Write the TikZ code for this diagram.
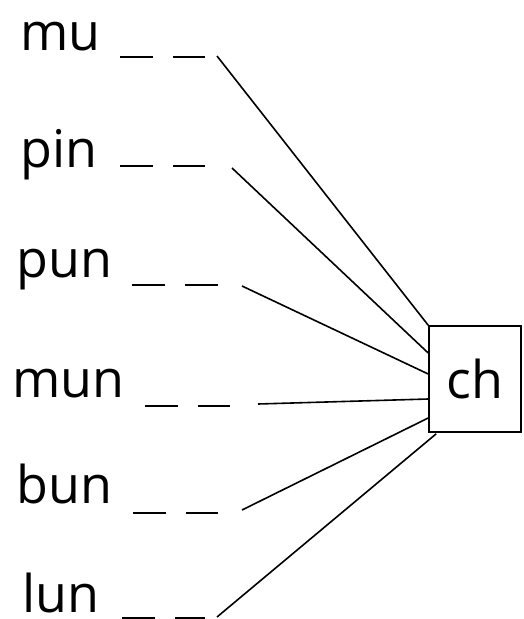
\documentclass[tikz,border=0pt]{standalone}
\usepackage{fontspec}
\setmainfont{Open Sans}
\usetikzlibrary{calc}
\tikzset{
  word/.style={anchor=base west, inner sep=0pt, font=\fontsize{52}{60}\selectfont},
  blank/.style={line width=2.6pt, dash pattern=on 33pt off 20pt},
  link/.style={line width=1.6pt}
}
\begin{document}
\begin{tikzpicture}[x=1pt,y=-1pt]
\useasboundingbox (0,0) rectangle (524,619);
\node[draw, line width=1.6pt, minimum width=92pt, minimum height=106pt, inner sep=0pt, font=\fontsize{52}{60}\selectfont] (ch) at (475,379) {ch};
% words and blanks
\node[word] (mu) at (20,50) {mu};
\draw[blank] (120,57)--(205,57);
\node[word] (pin) at (20,167) {pin};
\draw[blank] (120,166)--(205,166);
\node[word] (pun) at (16,277) {pun};
\draw[blank] (132,285)--(218,285);
\node[word] (mun) at (12,397) {mun};
\draw[blank] (145,406)--(230,406);
\node[word] (bun) at (16,503) {bun};
\draw[blank] (133,513)--(218,513);
\node[word] (lun) at (22,612) {lun};
\draw[blank] (122,618)--(205,618);
% line ends
\coordinate (mu-end) at (217,56);
\coordinate (pin-end) at (232,168);
\coordinate (pun-end) at (242,286);
\coordinate (mun-end) at (258,404);
\coordinate (bun-end) at (242,510);
\coordinate (lun-end) at (217,617);
\draw[link] (mu-end)--(ch.north west);
\draw[link] (pin-end)--($(ch.west)+(0,-26)$);
\draw[link] (pun-end)--($(ch.west)+(0,-5)$);
\draw[link] (mun-end)--($(ch.west)+(0,20)$);
\draw[link] (bun-end)--($(ch.west)+(0,39)$);
\draw[link] (lun-end)--($(ch.south west)+(8,1)$);
\end{tikzpicture}
\end{document}
